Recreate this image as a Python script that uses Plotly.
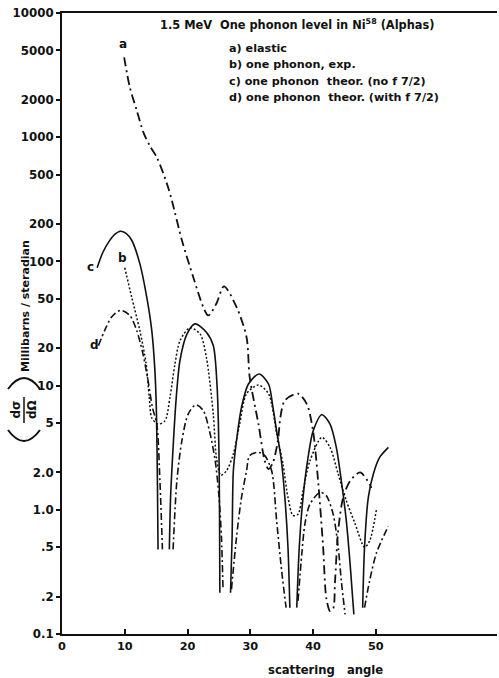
import plotly.graph_objects as go

# ---- data (scattering angle in degrees, cross section in mb/sr) ----
a_angle = [9.9, 10.8, 11.9, 12.95, 14.0, 15.1, 16.7, 17.5, 19.1, 20.9, 22.5, 23.3, 24.6, 25.8, 27.8, 29.4,
           29.9, 31.3, 32.3, 32.9, 33.6, 34.4, 34.8, 35.5, 37.6, 39.0, 40.0, 40.8, 41.6, 42.1, 42.7,
           43.2, 43.5, 44.0, 44.8, 45.9, 47.5, 49.0, 49.3]
a_value = [4400, 2530, 1650, 1100, 850, 690, 425, 310, 148, 75, 43, 36.7, 45.8, 63, 43, 24.5,
           11.7, 4.9, 2.48, 2.13, 2.4, 3.6, 5.6, 7.6, 8.6, 7.1, 4.3, 1.71, 0.5, 0.196, 0.153,
           0.16, 0.267, 0.68, 1.26, 1.71, 2.0, 1.61, 1.5]

b_angle = [10.0, 11.1, 12.4, 13.4, 13.9, 14.3, 15.3, 16.4, 17.2, 18.0, 18.8, 20.4, 22.0, 23.0, 24.1,
           24.6, 25.3, 26.2, 27.3, 28.3, 29.4, 31.3, 32.9, 34.2, 35.2, 36.0, 36.8, 37.6, 38.4, 39.5,
           41.4, 42.7, 44.0, 45.3, 46.7, 48.2, 49.0, 50.1]
b_value = [89, 51.5, 27.8, 15, 8.05, 5.5, 4.9, 5.2, 8.05, 15, 23, 29.2, 26, 16.9, 5.9,
           2.64, 1.9, 2.06, 2.81, 4.9, 8.6, 10.1, 8.6, 4.1, 2.34, 1.26, 0.9, 0.92, 1.42, 2.48,
           3.83, 3.18, 1.94, 1.18, 0.77, 0.5, 0.56, 1.01]

c_angle = [5.6, 6.5, 7.5, 8.4, 9.3, 10.2, 11.1, 12.4, 13.5, 14.3, 14.8, 15.05, 15.2, 15.3, None,
           17.1, 17.3, 17.7, 18.2, 18.8, 19.9, 21.2, 23.0, 24.1, 24.7, 25.0, 25.15, None,
           26.85, 27.1, 27.3, 27.8, 28.6, 29.7, 31.4, 32.9, 33.6, 34.2, 34.9, 35.5, 36.0, 36.3, None,
           37.4, 37.8, 38.4, 39.2, 40.0, 41.4, 42.7, 43.7, 44.5, 45.3, 45.9, 46.5, None,
           47.9, 48.2, 48.8, 49.6, 50.6, 52.0]
c_value = [89, 118, 145, 165, 175, 168, 148, 96, 51.5, 27.8, 13.2, 6.0, 1.7, 0.48, None,
           0.48, 1.26, 3.18, 8.0, 16, 26, 31.4, 26.9, 21, 10, 3.0, 0.215, None,
           0.215, 0.6, 2.06, 3.6, 6.7, 10.3, 12.4, 10.3, 6.7, 4.3, 2.6, 1.26, 0.5, 0.163, None,
           0.163, 0.5, 1.26, 2.64, 4.3, 5.83, 4.9, 3.18, 1.71, 0.81, 0.365, 0.144, None,
           0.163, 0.5, 1.26, 1.94, 2.64, 3.18]

d_angle = [5.8, 6.8, 7.9, 9.3, 10.8, 11.9, 12.9, 13.7, 14.4, 15.1, 15.6, 16.0, None,
           17.7, 18.3, 19.1, 20.1, 21.3, 22.5, 23.5, 24.4, 25.0, 25.4, 25.65, None,
           27.0, 27.8, 28.6, 29.4, 29.9, 31.3, 32.3, 33.4, 34.2, 35.0, 35.7, None,
           37.6, 38.2, 38.7, 39.5, 41.1, 42.1, 43.2, 44.0, 44.5, 45.1, None,
           48.2, 49.0, 50.1, 52.0]
d_value = [21, 27.8, 35.6, 40.3, 36.7, 27.8, 18, 11, 6.7, 4.9, 1.71, 0.48, None,
           0.48, 1.71, 3.6, 5.9, 7.0, 6.3, 4.3, 2.5, 1.3, 0.6, 0.23, None,
           0.23, 0.6, 1.26, 2.06, 2.73, 2.9, 2.73, 2.06, 0.81, 0.32, 0.163, None,
           0.185, 0.44, 0.77, 1.11, 1.38, 1.3, 0.92, 0.5, 0.267, 0.144, None,
           0.163, 0.267, 0.45, 0.74]

x_ticks = [0, 10, 20, 30, 40, 50]
y_tickvals = [0.1, 0.2, 0.5, 1, 2, 5, 10, 20, 50, 100, 200, 500, 1000, 2000, 5000, 10000]
y_ticktext = ["0.1", ".2", ".5", "1.0", "2.0", "5", "10", "20", "50", "100", "200", "500",
              "1000", "2000", "5000", "10000"]

chart_title = "1.5 MeV  One phonon level in Ni<sup>58</sup> (Alphas)"
legend_lines = ["a) elastic", "b) one phonon, exp.", "c) one phonon  theor. (no f 7/2)",
                "d) one phonon  theor. (with f 7/2)"]
x_title = "scattering   angle"
y_title = "Millibarns / steradian"

# ---- layout geometry (pixels) ----
W, H = 499, 678
L, R, T, B = 62, 2, 13, 44
PW, PH = W - L - R, H - T - B


def px(x):
    return (x - L) / PW


def py(y):
    return (H - B - y) / PH


INK = "#111111"
FONT = "DejaVu Sans"


def f(size):
    return dict(size=size, color=INK, family=FONT, weight="bold")


fig = go.Figure()
common = dict(mode="lines", line_shape="spline", connectgaps=False, showlegend=False,
              hoverinfo="skip")
fig.add_trace(go.Scatter(x=a_angle, y=a_value, line=dict(color=INK, width=1.8, dash="9px,4px,2px,4px", smoothing=0.8), **common))
fig.add_trace(go.Scatter(x=b_angle, y=b_value, line=dict(color=INK, width=1.5, dash="2px,2px", smoothing=0.8), **common))
fig.add_trace(go.Scatter(x=c_angle, y=c_value, line=dict(color=INK, width=1.6, smoothing=0.8), **common))
fig.add_trace(go.Scatter(x=d_angle, y=d_value, line=dict(color=INK, width=1.6, dash="7px,3px,2px,3px", smoothing=0.8), **common))

ann = []
for i, t in enumerate(legend_lines):
    ann.append(dict(x=px(227), y=py(48 + i * 16.5), text=t, xanchor="left", yanchor="middle",
                    font=f(11.2)))
# curve labels
for lab, (lx, ly) in zip("abcd", [(123, 44), (122, 258), (90, 267), (94, 345)]):
    ann.append(dict(x=px(lx), y=py(ly), text=lab, xanchor="center", yanchor="middle", font=f(12)))
ann.append(dict(x=px(325), y=py(670), text=x_title, xanchor="center", yanchor="middle",
                font=f(11.6)))
ann.append(dict(x=px(25), y=py(306), text=y_title, textangle=-90,
                xanchor="center", yanchor="middle", font=f(11)))
ann.append(dict(x=px(24), y=py(410), text="dσ<br>dΩ", textangle=-90,
                xanchor="center", yanchor="middle", font=f(12)))
for a in ann:
    a.update(xref="paper", yref="paper", showarrow=False)


def qpath(x0, y0, xc, yc, x1, y1):
    return "M {} {} Q {} {} {} {}".format(px(x0), py(y0), px(xc), py(yc), px(x1), py(y1))


shapes = [
    dict(type="line", xref="paper", yref="paper", x0=px(24), x1=px(24), y0=py(397), y1=py(423),
         line=dict(color=INK, width=1.5)),
    dict(type="path", xref="paper", yref="paper", path=qpath(8, 430, 24, 452, 40, 430),
         line=dict(color=INK, width=2)),
    dict(type="path", xref="paper", yref="paper", path=qpath(8, 389, 24, 367, 40, 389),
         line=dict(color=INK, width=2)),
]

fig.update_layout(
    width=W, height=H, margin=dict(l=L, r=R, t=T, b=B, autoexpand=False),
    paper_bgcolor="white", plot_bgcolor="white",
    title=dict(text=chart_title, x=px(160), xref="paper", xanchor="left",
               y=1 - 25 / H, yref="container", yanchor="middle", font=f(11.4)),
    annotations=ann, shapes=shapes,
    xaxis=dict(range=[0, 69.3], tickvals=x_ticks, ticktext=[str(v) for v in x_ticks],
               ticks="inside", ticklen=5, tickwidth=1.5, tickcolor=INK,
               showline=True, linewidth=2, linecolor=INK, mirror=True, showgrid=False, zeroline=False,
               tickfont=f(11.3), automargin=False),
    yaxis=dict(type="log", range=[-1, 4], tickvals=y_tickvals, ticktext=y_ticktext,
               ticks="outside", ticklen=4, tickwidth=1.5, tickcolor=INK,
               showline=True, linewidth=2, linecolor=INK, showgrid=False, zeroline=False,
               tickfont=f(11.8), automargin=False),
)

fig.write_html("out.html")
